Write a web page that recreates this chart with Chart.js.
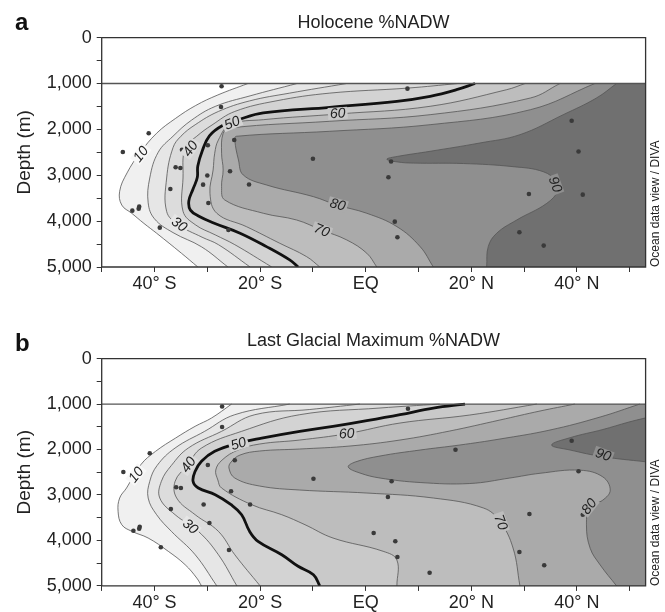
<!DOCTYPE html>
<html>
<head>
<meta charset="utf-8">
<script src="https://cdn.jsdelivr.net/npm/chart.js@4.4.1/dist/chart.umd.min.js"></script>
<style>
html,body{margin:0;padding:0;background:#fff;}
body{width:665px;height:612px;position:relative;overflow:hidden;font-family:"Liberation Sans",Arial,sans-serif;color:#222;}
.panel{position:absolute;left:0;width:665px;}
#pa{top:0;height:300px;}
#pb{top:300px;height:312px;}
canvas{display:block;}
.title{position:absolute;font-size:18px;line-height:18px;white-space:nowrap;transform:translateX(-50%);}
.letter{position:absolute;font-size:24px;line-height:24px;font-weight:bold;color:#111;}
.side{position:absolute;font-size:12px;line-height:12px;white-space:nowrap;transform:rotate(-90deg);transform-origin:0 0;}
</style>
</head>
<body>
<div class="panel" id="pa"><canvas id="ca" width="665" height="300"></canvas></div>
<div class="panel" id="pb"><canvas id="cb" width="665" height="312"></canvas></div>
<div class="letter" style="left:15px;top:10px">a</div>
<div class="letter" style="left:15px;top:331px">b</div>
<div class="title" style="left:373.5px;top:12.5px">Holocene %NADW</div>
<div class="title" style="left:373.5px;top:331px">Last Glacial Maximum %NADW</div>
<div class="side" style="left:649px;top:267px">Ocean data view / DIVA</div>
<div class="side" style="left:649px;top:586px">Ocean data view / DIVA</div>
<script>
// ---------- contour levels and band shades ----------
const levels = [10, 20, 30, 40, 50, 60, 70, 80, 90];
const bandColors = ['#f0f0f0', '#e6e6e6', '#dcdcdc', '#d3d3d3', '#c9c9c9', '#bdbdbd', '#aaaaaa', '#8f8f8f', '#707070'];

// ---------- axis ticks ----------
const xTickValues = [-50, -40, -30, -20, -10, 0, 10, 20, 30, 40, 50];
const xTickText = ['', '40° S', '', '20° S', '', 'EQ', '', '20° N', '', '40° N', ''];
const yTickValues = [0, 500, 1000, 1500, 2000, 2500, 3000, 3500, 4000, 4500, 5000];
const yTickText = ['0', '', '1,000', '', '2,000', '', '3,000', '', '4,000', '', '5,000'];

// ---------- Holocene contours [latitude, depth m] ----------
const holC10 = [[-22.3,1000],[-28,1250],[-32.2,1480],[-36,1760],[-39.6,2085],[-42.8,2521],[-45.2,2950],[-46.6,3350],[-46.2,3650],[-44.3,3830],[-42,4050],[-39.6,4264],[-34.9,4700],[-31.8,5000]];
const holC20 = [[-13,1000],[-21.9,1270],[-28.5,1500],[-33,1800],[-36.5,2150],[-39.3,2500],[-40.9,3060],[-41.2,3600],[-40,3950],[-36.5,4250],[-31.1,4560],[-26.1,5000]];
const holC30 = [[-3.6,1000],[-14.4,1210],[-22,1380],[-27.9,1610],[-32.3,1900],[-35,2150],[-36.5,2400],[-37.7,3060],[-37.7,3790],[-35.5,4077],[-31,4350],[-27.9,4513],[-21.9,5000]];
const holC40 = [[17.5,1000],[8,1100],[-6.8,1210],[-17,1380],[-24.8,1610],[-29.1,1904],[-32,2150],[-34.2,2400],[-34.6,3059],[-34.6,3785],[-32.3,4077],[-28.5,4300],[-24.8,4513],[-17.8,5000]];
const holC50 = [[20.7,1000],[17.2,1135],[12.2,1279],[5.9,1388],[-6.8,1519],[-19.4,1643],[-24.1,1789],[-27.2,1920],[-29.6,2140],[-30.9,2450],[-31.8,2800],[-31.9,3050],[-32.7,3300],[-33.5,3560],[-33.2,3760],[-31.5,3900],[-28.8,4040],[-23.8,4264],[-18.8,4556],[-14.4,4846],[-12.8,5000]];
const holC60 = [[30.2,1000],[26.7,1135],[12.2,1497],[-5.2,1665],[-19.4,1789],[-25.7,1898],[-27.9,2231],[-28.6,2521],[-28.9,2885],[-29.5,3393],[-28.2,3829],[-22.6,4120],[-16.3,4482],[-11.2,4774],[-8.7,5000]];
const holC70 = [[36.8,1000],[31.2,1316],[12.2,1680],[-6.8,1824],[-25.7,1970],[-27,2085],[-27.3,2521],[-27,2885],[-27.3,3249],[-26.7,3539],[-19.4,3829],[-13.1,3975],[-8.4,4192],[-3.6,4410],[0.2,4700],[2.1,5000]];
const holC80 = [[43.4,1000],[31.2,1571],[12.2,1898],[-6.8,2042],[-24.5,2151],[-24.8,2231],[-24.1,2667],[-23.2,2994],[-18.8,3212],[-9.9,3467],[-5.5,3648],[0.2,3829],[5.9,4120],[10.3,4556],[12.8,5000]];
const holC90 = [[47.5,1000],[43.7,1316],[37.4,1680],[29.2,2116],[21.6,2297],[12.2,2478],[6,2590],[4,2650],[6,2710],[9,2735],[18.5,2745],[27.9,2813],[33.6,2922],[36.2,3140],[36.5,3321],[34.3,3611],[28.6,3975],[24.8,4264],[23.2,4556],[22.9,5000]];

// ---------- LGM contours [latitude, depth m] ----------
const lgmC10 = [[-25.4,1000],[-29.2,1307],[-32.3,1489],[-36,1747],[-39.8,2040],[-42.6,2334],[-45.3,2847],[-46.6,3067],[-46.9,3359],[-46.2,3654],[-44.3,3799],[-41.2,3947],[-37.4,4239],[-34.2,4534],[-32,4827],[-31.1,5000]];
const lgmC20 = [[-14.4,1000],[-24.8,1234],[-30.5,1600],[-36.1,1967],[-39.5,2350],[-40.9,2700],[-41.2,3067],[-39.6,3434],[-36.8,3800],[-32.3,4314],[-28.2,5000]];
const lgmC30 = [[-1.1,1000],[-10.6,1120],[-21,1234],[-27.3,1600],[-33.6,1967],[-36.8,2350],[-38.7,2700],[-39,3067],[-36.1,3434],[-31.7,3800],[-27.9,4314],[-24.4,5000]];
const lgmC40 = [[14,1000],[2.7,1087],[-12.5,1234],[-23.5,1600],[-31.1,1967],[-33.8,2350],[-36.1,2700],[-35.8,3067],[-32.3,3434],[-27.9,3800],[-24.8,4314],[-20,5000]];
const lgmC50 = [[18.8,1000],[12.8,1087],[6.5,1234],[0.2,1366],[-6.2,1489],[-12.5,1599],[-19.7,1747],[-24.1,1857],[-28.6,2039],[-31.1,2259],[-32.3,2479],[-32.7,2699],[-31.7,2847],[-28.5,2994],[-25.5,3214],[-23.5,3434],[-22,3799],[-20.4,4019],[-15.9,4314],[-12.8,4569],[-9.9,4754],[-8.7,5000]];
const lgmC60 = [[32.4,1000],[19.7,1241],[6.5,1417],[-3.6,1652],[-12.5,1791],[-20.1,1879],[-24.2,2011],[-27.2,2231],[-28.4,2451],[-28,2671],[-27.3,2847],[-21.6,3214],[-15.9,3434],[-11.5,3654],[-6.2,3947],[3.3,4239],[5.9,4431],[5.9,5000]];
const lgmC70 = [[39.6,1000],[33,1153],[25.4,1351],[15.9,1593],[6.5,1791],[-3,1923],[-12.5,1989],[-20.1,2033],[-23.8,2121],[-25.5,2275],[-25.9,2407],[-24.8,2627],[-20.1,2803],[-12.5,2891],[0.2,2957],[12.8,3067],[22.3,3287],[25.4,3580],[27.9,4167],[29.2,5000]];
const lgmC80 = [[51.9,1000],[44.4,1285],[34.9,1571],[25.4,1769],[17.8,1901],[10.3,2011],[2.7,2143],[-2,2275],[-3.3,2385],[-1.1,2517],[2.7,2627],[10.3,2726],[19.7,2748],[27.3,2627],[33,2523],[40.6,2455],[44.9,2602],[46.3,2893],[44.9,3113],[42.5,3252],[41.8,3656],[42.5,4171],[44.4,4539],[47.5,5000]];
const lgmC90 = [[55,1250],[52.9,1307],[49.7,1400],[44.9,1560],[38.7,1740],[35.2,1901],[38.7,2011],[44.9,2158],[52.9,2268],[55,2290]];

// ---------- core sites [latitude, depth m] ----------
const holStations = [[-27.3,1061],[-27.4,1512],[-41.1,2085],[-46,2493],[-34.8,2443],[-29.9,2347],[-24.9,2231],[-36,2826],[-35.1,2841],[-30,3005],[-25.7,2913],[-30.8,3205],[-22.1,3201],[-37,3299],[-29.8,3604],[-42.9,3685],[-43,3728],[-44.2,3772],[-39,4142],[-26,4192],[-10,2639],[7.9,1113],[39,1811],[40.3,2482],[4.8,2700],[4.3,3044],[30.9,3408],[41.1,3423],[5.5,4012],[6,4351],[29.1,4243],[33.7,4534]];
const lgmStations = [[-27.2,1054],[-27.2,1505],[-40.9,2083],[-45.9,2495],[-34.6,2435],[-29.9,2341],[-24.8,2237],[-35.9,2831],[-35,2847],[-25.5,2919],[-30.7,3210],[-21.9,3210],[-36.9,3309],[-29.6,3617],[-42.8,3698],[-42.9,3742],[-44,3786],[-38.8,4151],[-25.9,4211],[-9.9,2642],[8,1102],[17,2004],[39,1806],[4.9,2699],[40.3,2479],[4.2,3045],[31,3419],[41.1,3434],[1.5,3837],[5.6,4019],[6,4365],[29.1,4255],[33.8,4547],[12.1,4710]];

// ---------- contour labels [text, latitude, depth, angle deg] ----------
const holLabels = [['10',-42.6,2540,-52],['40',-33.2,2420,-55],['50',-25.3,1860,-22],['30',-35.3,4070,35],['60',-5.3,1650,-4],['70',-8.3,4200,21],['80',-5.3,3640,16],['90',35.9,3200,70]];
const lgmLabels = [['10',-43.5,2554,-52],['40',-33.6,2334,-55],['50',-24.1,1872,-18],['30',-33.2,3689,40],['60',-3.6,1648,-4],['70',25.6,3600,70],['80',42.3,3249,-52],['90',45,2114,20]];

// ---------- frame geometry (axis range) ----------
const X_MIN = -50, X_MAX = 53, D_TOP = 0, D_SHELF = 1000, D_BOTTOM = 5000;

const toXY = arr => arr.map(p => ({x: p[0], y: p[1]}));
const reflect = (a, b) => [2 * b[0] - a[0], 2 * b[1] - a[1]];
// region where value exceeds the contour level: contour plus closing vertices outside the visible area
function regionPolygon(c) {
  const n = c.length;
  return [reflect(c[1], c[0]), ...c, reflect(c[n - 2], c[n - 1]), [70, 6000], [70, 500]];
}

const labelPlugin = {
  id: 'contourLabels',
  afterDatasetsDraw(chart, args, opts) {
    const {ctx} = chart;
    const xs = chart.scales.x, ys = chart.scales.y;
    ctx.save();
    ctx.font = 'italic 14px "Liberation Sans", Arial, sans-serif';
    ctx.textAlign = 'center';
    ctx.textBaseline = 'middle';
    for (const [t, lat, dep, ang] of opts.items) {
      const px = xs.getPixelForValue(lat), py = ys.getPixelForValue(dep);
      const lv = parseInt(t, 10);
      const bg = lv === 10 ? '#f8f8f8' : bandColors[lv / 10 - 2];
      ctx.save();
      ctx.translate(px, py);
      ctx.rotate(ang * Math.PI / 180);
      const w = ctx.measureText(t).width;
      ctx.fillStyle = bg;
      ctx.fillRect(-w / 2 - 2, -6, w + 4, 12);
      ctx.fillStyle = '#222';
      ctx.fillText(t, 0, 0.5);
      ctx.restore();
    }
    ctx.restore();
  }
};

function buildDatasets(contours, stations) {
  const ds = [];
  contours.forEach((c, i) => {
    ds.push({data: toXY(regionPolygon(c)), fill: 'shape', backgroundColor: bandColors[i],
      borderWidth: 0, pointRadius: 0, tension: 0.4, order: 100 - i});
  });
  ds.push({data: toXY([[X_MIN - 10, D_TOP - 100], [X_MAX + 10, D_TOP - 100], [X_MAX + 10, D_SHELF], [X_MIN - 10, D_SHELF]]),
    fill: 'shape', backgroundColor: '#ffffff', borderWidth: 0, pointRadius: 0, tension: 0, order: 50});
  contours.forEach((c, i) => {
    const thick = levels[i] === 50;
    ds.push({data: toXY(c), fill: false, borderColor: thick ? '#111111' : '#555555',
      borderWidth: thick ? 2.8 : 0.8, pointRadius: 0, tension: 0.4, borderJoinStyle: 'round', order: 30});
  });
  ds.push({data: toXY([[X_MIN, D_SHELF], [X_MAX, D_SHELF]]), fill: false, borderColor: '#555555',
    borderWidth: 1.3, pointRadius: 0, tension: 0, order: 20});
  ds.push({data: toXY(stations), showLine: false, pointRadius: 2.3, pointBackgroundColor: '#3a3a3a',
    pointBorderWidth: 0, order: 10});
  ds.push({data: toXY([[X_MIN, D_TOP], [X_MAX, D_TOP], [X_MAX, D_BOTTOM], [X_MIN, D_BOTTOM], [X_MIN, D_TOP]]),
    fill: false, borderColor: '#333333', borderWidth: 1.3, pointRadius: 0, tension: 0, clip: false, order: 1});
  return ds;
}

Chart.defaults.font.family = '"Liberation Sans", Arial, sans-serif';
Chart.defaults.color = '#222';

function makePanel(id, contours, stations, labels, pad, xAxisH) {
  const tickFont = {size: 18};
  new Chart(document.getElementById(id), {
    type: 'line',
    data: {datasets: buildDatasets(contours, stations)},
    options: {
      responsive: false,
      animation: false,
      events: [],
      layout: {padding: pad},
      elements: {line: {capBezierPoints: false}},
      plugins: {legend: {display: false}, tooltip: {enabled: false}, contourLabels: {items: labels}},
      scales: {
        x: {
          type: 'linear', min: X_MIN, max: X_MAX,
          afterBuildTicks: s => { s.ticks = xTickValues.map(v => ({value: v})); },
          afterFit: s => { s.height = xAxisH; },
          ticks: {autoSkip: false, maxRotation: 0, minRotation: 0, font: tickFont, color: '#222', padding: 1,
            callback: v => { const i = xTickValues.indexOf(v); return i >= 0 ? xTickText[i] : ''; }},
          grid: {display: true, drawOnChartArea: false, drawTicks: true, tickLength: 5, color: '#333', lineWidth: 1},
          border: {display: false}
        },
        y: {
          type: 'linear', min: D_TOP, max: D_BOTTOM, reverse: true,
          afterBuildTicks: s => { s.ticks = yTickValues.map(v => ({value: v})); },
          afterFit: s => { s.width = 101.7; },
          ticks: {autoSkip: false, font: tickFont, color: '#222', padding: 5,
            callback: v => { const i = yTickValues.indexOf(v); return i >= 0 ? yTickText[i] : ''; }},
          grid: {display: true, drawOnChartArea: false, drawTicks: true, tickLength: 5, color: '#333', lineWidth: 1},
          border: {display: false},
          title: {display: true, text: 'Depth (m)', font: {size: 19}, color: '#222', padding: {top: 13, bottom: 0}}
        }
      }
    },
    plugins: [labelPlugin]
  });
}

makePanel('ca', [holC10, holC20, holC30, holC40, holC50, holC60, holC70, holC80, holC90], holStations, holLabels,
  {left: 0, right: 19.4, top: 37.6, bottom: 3}, 30);
makePanel('cb', [lgmC10, lgmC20, lgmC30, lgmC40, lgmC50, lgmC60, lgmC70, lgmC80, lgmC90], lgmStations, lgmLabels,
  {left: 0, right: 19.4, top: 58.6, bottom: 0.1}, 26);
</script>
</body>
</html>
